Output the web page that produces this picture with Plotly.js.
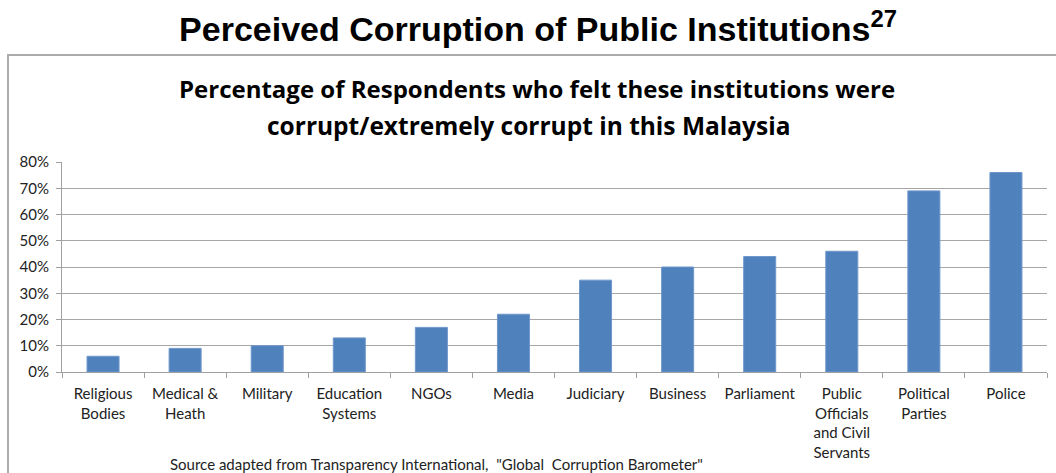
<!DOCTYPE html>
<html>
<head>
<meta charset="utf-8">
<script src="https://cdn.plot.ly/plotly-3.0.1.min.js"></script>
<style>
html,body{margin:0;padding:0;background:#fff;overflow:hidden;}
#wrap{position:relative;width:1056px;height:473px;overflow:hidden;}
#chart{position:absolute;left:0;top:0;width:1056px;height:473px;}
#frame{position:absolute;left:7px;top:54px;width:1100px;height:500px;
  border-left:2px solid #ababab;border-top:2px solid #ababab;pointer-events:none;}
</style>
</head>
<body>
<div id="wrap">
  <div id="chart"></div>
  <div id="frame"></div>
</div>
<script>
const categories = [
  "Religious<br>Bodies",
  "Medical &amp;<br>Heath",
  "Military",
  "Education<br>Systems",
  "NGOs",
  "Media",
  "Judiciary",
  "Business",
  "Parliament",
  "Public<br>Officials<br>and Civil<br>Servants",
  "Political<br>Parties",
  "Police"
];
const corruptShare = [0.06, 0.09, 0.10, 0.13, 0.17, 0.22, 0.35, 0.40, 0.44, 0.46, 0.69, 0.76];
const yTickValues = [0, 0.1, 0.2, 0.3, 0.4, 0.5, 0.6, 0.7, 0.8];
const yTickLabels = ["0%", "10%", "20%", "30%", "40%", "50%", "60%", "70%", "80%"];

const mainTitle = "Perceived Corruption of Public Institutions<sup>27</sup>";
const subtitle1 = "Percentage of Respondents who felt these institutions were";
const subtitle2 = "corrupt/extremely corrupt in this Malaysia";
const sourceNote = 'Source adapted from Transparency International,&nbsp; "Global&nbsp; Corruption Barometer"';

const W = 1056, H = 473;
const L = 62, R = 9, T = 162, B = 101;
const pw = W - L - R, ph = H - T - B;
const px = x => (x - L) / pw;
const py = y => (H - B - y) / ph;

const trace = {
  type: "bar",
  x: categories,
  y: corruptShare,
  marker: {color: "#4f81bd", line: {color: "#6f97cb", width: 1}},
  width: 0.39,
  hoverinfo: "x+y"
};

const layout = {
  width: W, height: H,
  margin: {l: L, r: R, t: T, b: B, pad: 0},
  paper_bgcolor: "#ffffff",
  plot_bgcolor: "#ffffff",
  showlegend: false,
  title: {
    text: mainTitle,
    font: {family: "Liberation Sans, Arial, sans-serif", size: 34, color: "#000", weight: "bold"},
    x: 538 / W, xanchor: "center", xref: "container",
    y: 1 - 29 / H, yanchor: "middle", yref: "container"
  },
  xaxis: {
    type: "category",
    showgrid: false,
    showline: true, linecolor: "#a0a0a0", linewidth: 1,
    ticks: "outside", ticklen: 5, tickcolor: "#a0a0a0", tickwidth: 1,
    tickson: "boundaries",
    ticklabelstandoff: 8,
    tickfont: {family: "Lato, sans-serif", size: 15, color: "#222"},
    tickangle: 0,
    fixedrange: true
  },
  yaxis: {
    range: [0, 0.8],
    tickvals: yTickValues,
    ticktext: yTickLabels,
    showgrid: true, gridcolor: "#a6a6a6", gridwidth: 1,
    showline: true, linecolor: "#a0a0a0", linewidth: 1,
    ticks: "outside", ticklen: 5, tickcolor: "#a0a0a0", tickwidth: 1,
    ticklabelstandoff: 4,
    zeroline: false,
    tickfont: {family: "Lato, sans-serif", size: 15, color: "#222"},
    fixedrange: true
  },
  annotations: [
    {text: "<b>" + subtitle1 + "</b>", xref: "paper", yref: "paper", x: px(537), y: py(89),
     xanchor: "center", yanchor: "middle", showarrow: false,
     font: {family: "Open Sans, sans-serif", size: 24, color: "#000"}},
    {text: "<b>" + subtitle2 + "</b>", xref: "paper", yref: "paper", x: px(528), y: py(126),
     xanchor: "center", yanchor: "middle", showarrow: false,
     font: {family: "Open Sans, sans-serif", size: 24.5, color: "#000"}},
    {text: sourceNote, xref: "paper", yref: "paper", x: px(436), y: py(464),
     xanchor: "center", yanchor: "middle", showarrow: false,
     font: {family: "Lato, sans-serif", size: 15, color: "#222"}}
  ]
};

Plotly.newPlot("chart", [trace], layout, {displayModeBar: false, staticPlot: true});
</script>
</body>
</html>
